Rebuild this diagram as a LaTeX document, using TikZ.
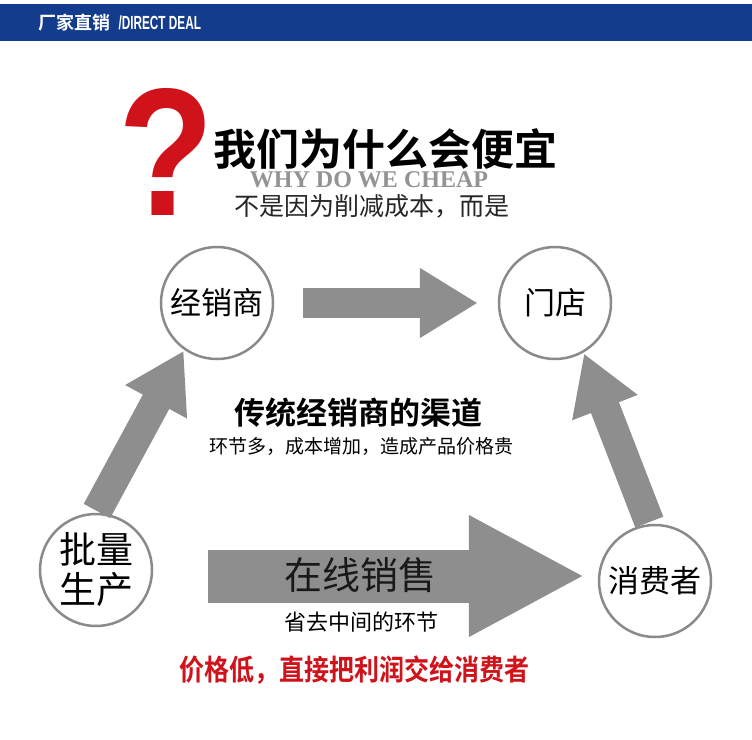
\documentclass[tikz,border=0pt]{standalone}
\usepackage{fontspec}
\setmainfont{Liberation Sans}
\newfontfamily\cjk{Noto Sans CJK SC}[BoldFont={Noto Sans CJK SC Bold}]
\newfontfamily\serifb{Liberation Serif}
\usetikzlibrary{positioning, arrows.meta, calc}
\definecolor{headblue}{HTML}{143C8C}
\definecolor{qred}{HTML}{D0121B}
\definecolor{arrowgray}{HTML}{8E8E8E}
\definecolor{ringgray}{HTML}{8A8A8A}

\begin{document}
\begin{tikzpicture}[x=1pt, y=-1pt,
    txt/.style={inner sep=0pt},
    station/.style={circle, draw=ringgray, line width=2.5pt, fill=white,
        minimum size=112pt, inner sep=0pt, font=\cjk\fontsize{31}{33}\selectfont},
    fatarrow/.style={draw=arrowgray, line width=30pt,
        -{Triangle[length=58pt, width=66pt]}},
]
    \useasboundingbox[fill=white] (0,0) rectangle (752,739);

    % header band
    \fill[headblue] (0,4) rectangle (752,41);
    \node[txt, anchor=west, text=white, font=\cjk\bfseries\fontsize{18}{18}\selectfont] (head) at (38,23) {厂家直销};
    \node[txt, right=8pt of head, text=white, xscale=0.62, font=\bfseries\fontsize{19}{19}\selectfont] (headen) {/DIRECT DEAL};

    % question and title
    \node[txt, text=qred, xscale=0.86, font=\bfseries\fontsize{182}{182}\selectfont] (qmark) at (166,152) {?};
    \node[txt, anchor=west, font=\cjk\bfseries\fontsize{43}{43}\selectfont] (title) at (213,149) {我们为什么会便宜};
    \node[txt, text=gray!85, font=\serifb\bfseries\fontsize{24}{24}\selectfont] (why) at (369,180) {WHY DO WE CHEAP};
    \node[txt, text=black!85, font=\cjk\fontsize{25}{25}\selectfont] (sub) at (372,206) {不是因为削减成本，而是};

    % the four stations
    \node[station] (jxs) at (217,303) {经销商};
    \node[station] (md) at (555,303) {门店};
    \node[station, align=center, font=\cjk\fontsize{37}{40}\selectfont] (pl) at (96,570) {批量\\生产};
    \node[station] (xfz) at (655,581) {消费者};
    \coordinate (midy) at (0,576);

    % connectors
    \draw[fatarrow, shorten <=29pt, shorten >=20pt] (jxs) -- (md);
    \draw[fatarrow, shorten <=2pt, shorten >=1pt] (pl.north) -- (jxs.235);
    \draw[fatarrow, shorten <=2pt, shorten >=1pt] (xfz.95) -- (md.300);
    \draw[draw=arrowgray, line width=53pt, -{Triangle[length=116pt, width=113pt]},
        shorten <=55pt, shorten >=13pt] (pl.east |- midy) -- (xfz.west |- midy);

    % captions
    \node[txt, font=\cjk\bfseries\fontsize{31}{31}\selectfont] (trad) at (358,413) {传统经销商的渠道};
    \node[txt, font=\cjk\fontsize{19}{19}\selectfont] (tradsub) at (361,447) {环节多，成本增加，造成产品价格贵};
    \node[txt, text=black!90, font=\cjk\fontsize{38}{38}\selectfont] (online) at (360,575) {在线销售};
    \node[txt, font=\cjk\fontsize{22}{22}\selectfont] (onlinesub) at (361,622) {省去中间的环节};
    \node[txt, text=qred, yscale=1.15, font=\cjk\bfseries\fontsize{25}{25}\selectfont] (price) at (354,670) {价格低，直接把利润交给消费者};
\end{tikzpicture}
\end{document}
